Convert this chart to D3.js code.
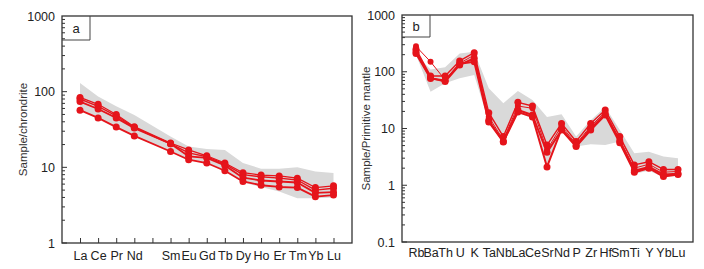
<!DOCTYPE html>
<html><head><meta charset="utf-8">
<script src="https://cdn.jsdelivr.net/npm/d3@7"></script>
<style>body{margin:0;background:#fff;} svg{display:block;font-family:"Liberation Sans",Arial,sans-serif;}</style>
</head><body>
<svg id="c" width="704" height="269"></svg>
<script>
// ---- Panel a: chondrite-normalized REE ----
const reeElems = ["La","Ce","Pr","Nd","Pm","Sm","Eu","Gd","Tb","Dy","Ho","Er","Tm","Yb","Lu"];
const reeLabels = ["La","Ce","Pr","Nd","","Sm","Eu","Gd","Tb","Dy","Ho","Er","Tm","Yb","Lu"];
const reeS1 = [84,68,50,34.5,null,21,17,14.2,11.4,8.5,7.9,7.7,7.2,5.4,5.7];
const reeS2 = [80,64,48,33.5,null,20.5,15.5,13.8,11,8.0,7.5,7.2,6.8,5.0,5.3];
const reeS3 = [74,59,45,33,null,20.5,14,13.3,10.6,7.3,6.7,6.5,6.3,4.6,4.7];
const reeS4 = [57,45,34,26,null,16.2,12.6,11.4,9.0,6.5,5.8,5.5,5.4,4.1,4.3];
const reeEnvHi = [130,86,64,49,null,25.5,18.8,17.5,17,11.4,9.6,9.6,10,8.8,8.4];
const reeEnvLo = [57,45,34,26,null,16.2,12.6,11.4,9.0,6.3,5.5,4.8,3.9,3.9,4.0];
const reeYTicks = [1,10,100,1000];

// ---- Panel b: primitive-mantle-normalized spider ----
const spElems = ["Rb","Ba","Th","U","K","Ta","Nb","La","Ce","Sr","Nd","P","Zr","Hf","Sm","Ti","Y","Yb","Lu"];
const spS1 = [280,150,72,141,197,16,6.3,24.9,22.7,4.2,11.1,5.3,11,19.5,6.3,2.0,2.35,1.7,1.75];
const spS2 = [250,84,84,155,217,19,7.2,28.9,24.9,5.1,12.3,5.9,12.3,21.2,7.2,2.28,2.6,1.9,1.9];
const spS3 = [225,78,67,132,173,14,5.9,21.2,17.3,3.8,9.4,4.8,9.4,17.3,5.6,1.7,2.0,1.42,1.55];
const spS4 = [210,76,70,138,150,13,5.8,19.5,16,2.1,9.8,5.0,10,18,6.0,1.8,2.1,1.55,1.6];
const spEnvHi = [200,110,120,210,225,51,27.8,46,31.8,16,17.8,7.2,14,24,9.4,3.66,3.9,3.2,3.0];
const spEnvLo = [200,44.5,62.5,76.6,88,13,5.8,19,15,2.1,9,4.8,5.3,5.1,5.9,1.6,1.8,1.4,1.45];
const spYTicks = [0.1,1,10,100,1000];

const RED = "#e5141b";
const svg = d3.select("#c");

function panel(opt){
  const g = svg.append("g");
  const x = d3.scalePoint().domain(opt.elems).range([opt.x0, opt.x1]);
  const y = d3.scaleLog().domain(opt.yDom).range([opt.yb, opt.yt]);
  // envelope
  const envPts = opt.elems.map((e,i)=>({e,hi:opt.envHi[i],lo:opt.envLo[i]})).filter(d=>d.hi!=null);
  g.append("path").datum(envPts)
    .attr("fill","#d9d9d9").attr("stroke","none")
    .attr("d", d3.area().x(d=>x(d.e)).y0(d=>y(d.lo)).y1(d=>y(d.hi)));
  // series
  opt.series.forEach((s,si)=>{
    const pts = opt.elems.map((e,i)=>({e,v:s[i]})).filter(d=>d.v!=null);
    g.append("path").datum(pts).attr("fill","none").attr("stroke",RED)
      .attr("stroke-width",opt.widths[si]).attr("stroke-linejoin","round")
      .attr("d", d3.line().x(d=>x(d.e)).y(d=>y(d.v)));
    g.selectAll(null).data(pts).enter().append("circle")
      .attr("cx",d=>x(d.e)).attr("cy",d=>y(d.v)).attr("r",opt.r[si]).attr("fill",RED);
  });
  // frame
  g.append("rect").attr("x",opt.fx0).attr("y",opt.yt).attr("width",opt.fx1-opt.fx0)
    .attr("height",opt.yb-opt.yt).attr("fill","none").attr("stroke","#333").attr("stroke-width",1.3);
  // y axis
  const ya = d3.axisLeft(y).tickValues(opt.yTicks).tickFormat(d=>String(d)).tickSize(0).tickPadding(7);
  const yg = g.append("g").attr("transform",`translate(${opt.fx0},0)`).call(ya);
  yg.select(".domain").remove();
  yg.selectAll("text").attr("font-size",12.5).attr("fill","#222").attr("font-family","Liberation Sans, Arial, sans-serif");
  // minor + major ticks (inside)
  const minors = [];
  for (let p = opt.yDom[0]; p < opt.yDom[1]; p*=10) for (let k=1;k<10;k++) minors.push(p*k);
  g.selectAll(null).data(minors).enter().append("line")
    .attr("x1",opt.fx0).attr("x2",d=>opt.fx0 + (opt.yTicks.some(t=>Math.abs(t-d)<1e-9)?5:3))
    .attr("y1",d=>y(d)).attr("y2",d=>y(d)).attr("stroke","#333").attr("stroke-width",1);
  // x labels
  const xa = d3.axisBottom(x).tickFormat((d,i)=>opt.labels[i]).tickSize(opt.xTicks?-5:0).tickPadding(opt.xTicks?8:6);
  const xg = g.append("g").attr("transform",`translate(0,${opt.yb})`).call(xa);
  xg.select(".domain").remove();
  xg.selectAll("line").attr("stroke","#333");
  xg.selectAll("text").attr("font-size",12.5).attr("fill","#222").attr("font-family","Liberation Sans, Arial, sans-serif");
  // y title
  g.append("text").attr("transform",`translate(${opt.titleX},${(opt.yt+opt.yb)/2}) rotate(-90)`)
    .attr("text-anchor","middle").attr("font-size",11.5).attr("fill","#333").text(opt.title);
  // letter box
  g.append("path").attr("d",`M${opt.fx0},${opt.yt+opt.bh}H${opt.fx0+opt.bw}V${opt.yt}`)
    .attr("fill","none").attr("stroke","#444").attr("stroke-width",1);
  g.append("text").attr("x",opt.fx0+opt.bw/2).attr("y",opt.yt+opt.bh/2+4.5).attr("text-anchor","middle")
    .attr("font-size",13).attr("fill","#222").text(opt.letter);
}

panel({elems:reeElems, labels:reeLabels, x0:80, x1:333.5, fx0:62, fx1:352, yt:16, yb:243,
  yDom:[1,1000], yTicks:reeYTicks, envHi:reeEnvHi, envLo:reeEnvLo,
  series:[reeS1,reeS2,reeS3,reeS4], widths:[1.2,1.4,1.8,1.8], r:[3.5,3.5,3.5,3.5],
  title:"Sample/chrondrite", titleX:27, letter:"a", bw:28, bh:24, xTicks:true});

panel({elems:spElems, labels:spElems, x0:416, x1:678, fx0:402, fx1:693, yt:15, yb:242,
  yDom:[0.1,1000], yTicks:spYTicks, envHi:spEnvHi, envLo:spEnvLo,
  series:[spS1,spS2,spS3,spS4], widths:[1,1.4,2,2], r:[3,3.5,3.5,3.5],
  title:"Sample/Primitive mantle", titleX:370, letter:"b", bw:28, bh:22, xTicks:false});
</script>
</body></html>
